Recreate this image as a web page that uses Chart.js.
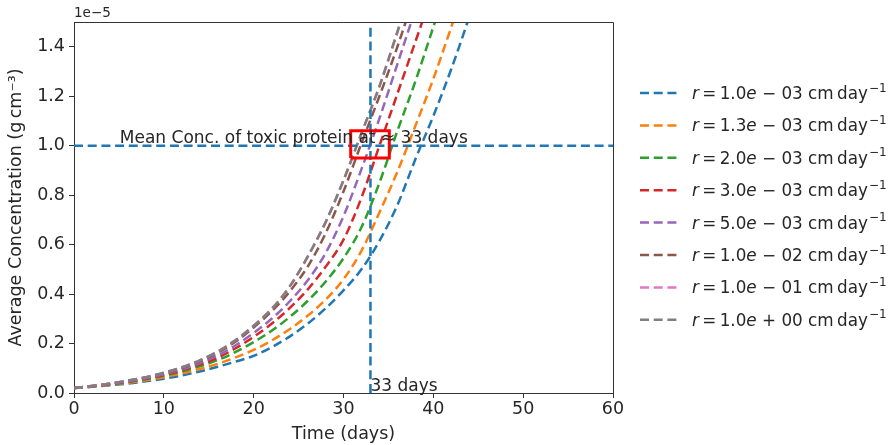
<!DOCTYPE html>
<html>
<head>
<meta charset="utf-8">
<script src="https://cdn.jsdelivr.net/npm/chart.js@4"></script>
<style>
  html, body { margin: 0; padding: 0; background: #fff; }
  canvas { display: block; }
</style>
</head>
<body>
<canvas id="myChart" width="896" height="445"></canvas>
<script>

// time axis (days) and the concentration curves, in units of 1e-5 g cm^-3
const days = [0, 2, 4, 6, 8, 10, 12, 14, 16, 18, 20, 22, 24, 26, 28, 30, 32, 34, 36, 38, 40, 42, 44, 46];

const conc_1e3 = [0.020, 0.025, 0.031, 0.038, 0.047, 0.058, 0.071, 0.087, 0.106, 0.127, 0.150, 0.185, 0.228, 0.280, 0.342, 0.415, 0.500, 0.615, 0.760, 0.945, 1.12, 1.31, 1.52, 1.74];
const conc_13e4 = [0.020, 0.026, 0.033, 0.041, 0.051, 0.064, 0.079, 0.097, 0.118, 0.144, 0.174, 0.212, 0.258, 0.312, 0.377, 0.460, 0.575, 0.730, 0.895, 1.08, 1.27, 1.48, 1.70];
const conc_2e3 = [0.020, 0.027, 0.035, 0.044, 0.056, 0.070, 0.087, 0.108, 0.133, 0.166, 0.206, 0.252, 0.307, 0.372, 0.450, 0.545, 0.670, 0.850, 1.06, 1.26, 1.48, 1.70];
const conc_3e3 = [0.020, 0.027, 0.036, 0.046, 0.058, 0.073, 0.092, 0.115, 0.143, 0.181, 0.227, 0.280, 0.343, 0.418, 0.510, 0.620, 0.790, 1.00, 1.21, 1.42, 1.63];
const conc_5e3 = [0.020, 0.028, 0.037, 0.047, 0.060, 0.076, 0.096, 0.121, 0.152, 0.193, 0.243, 0.300, 0.370, 0.455, 0.565, 0.715, 0.905, 1.11, 1.33, 1.55, 1.77];
const conc_1e2 = [0.020, 0.028, 0.038, 0.049, 0.063, 0.080, 0.101, 0.128, 0.163, 0.208, 0.265, 0.330, 0.410, 0.510, 0.645, 0.815, 1.01, 1.20, 1.40, 1.62, 1.84];
const conc_1e1 = [0.020, 0.028, 0.038, 0.050, 0.064, 0.082, 0.104, 0.132, 0.168, 0.214, 0.272, 0.340, 0.430, 0.550, 0.690, 0.860, 1.05, 1.24, 1.46, 1.68, 1.90];
const conc_1e0 = [0.020, 0.028, 0.038, 0.050, 0.064, 0.082, 0.104, 0.132, 0.168, 0.214, 0.272, 0.340, 0.430, 0.550, 0.690, 0.860, 1.05, 1.24, 1.46, 1.68, 1.90];

const allSeries = [conc_1e3, conc_13e4, conc_2e3, conc_3e3, conc_5e3, conc_1e2, conc_1e1, conc_1e0];

// legend text parts: r = <mant>e <exp> cm day^-1
const rMant = ['1.0', '1.3', '2.0', '3.0', '5.0', '1.0', '1.0', '1.0'];
const rExp = ['\u2212 03', '\u2212 03', '\u2212 03', '\u2212 03', '\u2212 03', '\u2212 02', '\u2212 01', '+ 00'];

const colors = ['#1f77b4', '#ff7f0e', '#2ca02c', '#d62728', '#9467bd', '#8c564b', '#e377c2', '#7f7f7f'];

// threshold markers
const thresholdConc = 1.0;
const thresholdDay = 33;
const boxDays = [30.8, 35.1];
const boxConc = [0.95, 1.06];

const xTicks = [0, 10, 20, 30, 40, 50, 60];
const yTicks = [0.0, 0.2, 0.4, 0.6, 0.8, 1.0, 1.2, 1.4];

const FONT = "'DejaVu Sans', sans-serif";
const TEXT = '#262626';
const DASH = [9, 4.7];
const FS = 17.5;
const LEG_FS = 16.8;


function makeSeries(vals) {
  return vals.map(function(v, i) { return { x: days[i], y: v }; });
}

// chart.js draws lower "order" on top, so later curves get lower order (like matplotlib)
const datasets = allSeries.map(function(vals, i) {
  return {
    data: makeSeries(vals),
    borderColor: colors[i],
    borderWidth: 2.5,
    borderDash: DASH,
    pointRadius: 0,
    cubicInterpolationMode: 'monotone',
    fill: false,
    order: 20 - i
  };
});

// horizontal threshold line
datasets.push({
  data: [{ x: xTicks[0], y: thresholdConc }, { x: xTicks[xTicks.length - 1], y: thresholdConc }],
  borderColor: colors[0], borderWidth: 2.5, borderDash: DASH, pointRadius: 0, fill: false, order: 3
});
// vertical line at the crossing day
datasets.push({
  data: [{ x: thresholdDay, y: 0 }, { x: thresholdDay, y: 1.5 }],
  borderColor: colors[0], borderWidth: 2.5, borderDash: DASH, pointRadius: 0, fill: false, order: 2
});
// red box round the crossing
datasets.push({
  data: [
    { x: boxDays[0], y: boxConc[0] }, { x: boxDays[1], y: boxConc[0] },
    { x: boxDays[1], y: boxConc[1] }, { x: boxDays[0], y: boxConc[1] },
    { x: boxDays[0], y: boxConc[0] }
  ],
  borderColor: '#ff0000', borderWidth: 3, pointRadius: 0, fill: false, order: 1
});


// frame, annotations and legend
const extras = {
  id: 'extras',
  afterDraw(chart) {
    const c = chart.ctx;
    const a = chart.chartArea;
    const xs = chart.scales.x;
    const ys = chart.scales.y;

    c.save();
    // top and right spines
    c.strokeStyle = '#333';
    c.lineWidth = 1;
    c.beginPath();
    c.moveTo(a.left, a.top + 0.5);
    c.lineTo(a.right + 0.5, a.top + 0.5);
    c.lineTo(a.right + 0.5, a.bottom);
    c.stroke();

    // offset text
    c.fillStyle = TEXT;
    c.font = '13.5px ' + FONT;
    c.textBaseline = 'alphabetic';
    c.textAlign = 'left';
    c.fillText('1e\u22125', a.left, a.top - 5);

    // annotations
    c.font = '17px ' + FONT;
    c.fillText('Mean Conc. of toxic protein at \u2248 33 days', xs.getPixelForValue(5.1), ys.getPixelForValue(thresholdConc) - 3);
    c.fillText('33 days', xs.getPixelForValue(thresholdDay), ys.getPixelForValue(0) - 2);

    // legend
    const lx = 640, ly = 93, step = 32.4;
    for (let i = 0; i < colors.length; i++) {
      const y = ly + step * i;
      c.strokeStyle = colors[i];
      c.lineWidth = 2.5;
      c.setLineDash(DASH);
      c.beginPath();
      c.moveTo(lx, y);
      c.lineTo(lx + 37, y);
      c.stroke();
      c.setLineDash([]);

      let tx = 692;
      const by = y + 6;
      c.fillStyle = TEXT;
      c.font = 'italic ' + LEG_FS + 'px ' + FONT;
      c.fillText('r', tx, by); tx += c.measureText('r').width;
      c.font = LEG_FS + 'px ' + FONT;
      let s = '\u2009=\u2009' + rMant[i];
      c.fillText(s, tx, by); tx += c.measureText(s).width;
      c.font = 'italic ' + LEG_FS + 'px ' + FONT;
      c.fillText('e', tx, by); tx += c.measureText('e').width;
      c.font = LEG_FS + 'px ' + FONT;
      s = ' ' + rExp[i] + ' cm\u2009day';
      c.fillText(s, tx, by); tx += c.measureText(s).width;
      c.font = '12px ' + FONT;
      c.fillText('\u22121', tx + 1, by - 7.5);
    }
    c.restore();
  }
};


const ctx = document.getElementById('myChart');

new Chart(ctx, {
  type: 'line',
  data: { datasets: datasets },
  options: {
    responsive: false,
    animation: false,
    devicePixelRatio: 1,
    layout: { padding: { left: 0, top: 22, right: 283, bottom: 0 } },
    plugins: {
      legend: { display: false },
      tooltip: { enabled: false }
    },
    scales: {
      x: {
        type: 'linear',
        min: 0,
        max: 60,
        afterFit: function(scale) { scale.height = 52; },
        afterBuildTicks: function(scale) { scale.ticks = xTicks.map(function(v) { return { value: v }; }); },
        ticks: { color: TEXT, font: { family: FONT, size: FS }, padding: 1, maxRotation: 0 },
        grid: { drawOnChartArea: false, drawTicks: true, tickLength: 5, color: '#333' },
        border: { color: '#333', width: 1 },
        title: { display: true, text: 'Time (days)', color: TEXT, font: { family: FONT, size: FS }, padding: { top: 0, bottom: 0 } }
      },
      y: {
        type: 'linear',
        min: 0,
        max: 1.5,
        afterFit: function(scale) { scale.width = 74; },
        afterBuildTicks: function(scale) { scale.ticks = yTicks.map(function(v) { return { value: v }; }); },
        ticks: {
          color: TEXT, font: { family: FONT, size: FS }, padding: 4,
          callback: function(v) { return v.toFixed(1); }
        },
        grid: { drawOnChartArea: false, drawTicks: true, tickLength: 5, color: '#333' },
        border: { color: '#333', width: 1 },
        title: { display: true, text: 'Average Concentration (g\u2009cm\u207b\u00b3)', color: TEXT, font: { family: FONT, size: FS }, padding: { top: 6, bottom: 4 } }
      }
    }
  },
  plugins: [extras]
});

</script>
</body>
</html>
